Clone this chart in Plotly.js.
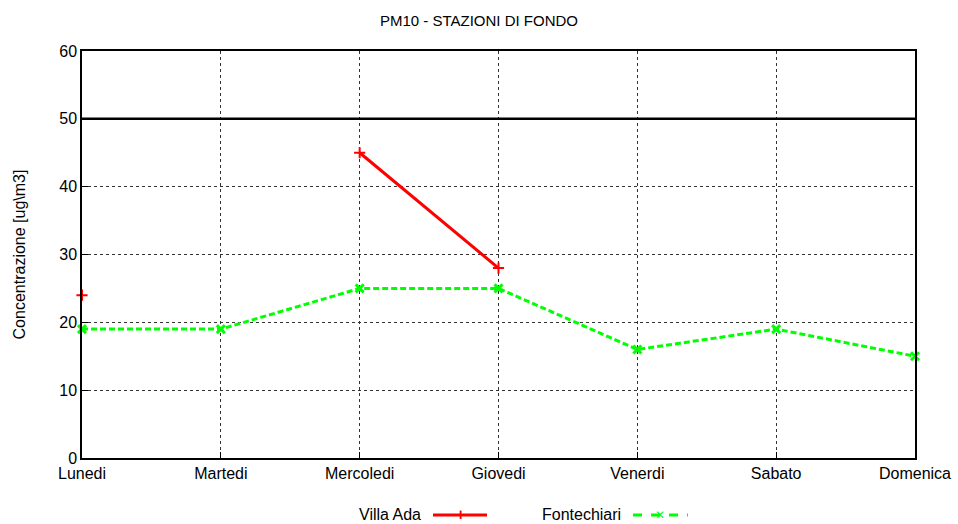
<!DOCTYPE html>
<html><head><meta charset="utf-8">
<script src="https://cdn.plot.ly/plotly-3.0.1.min.js"></script>
<style>body{margin:0}#chart{width:958px;height:524px}</style>
</head><body><div id="chart"></div>
<script>
const days = ['Lunedi', 'Martedi', 'Mercoledi', 'Giovedi', 'Venerdi', 'Sabato', 'Domenica'];
const villaAda = [24, null, 45, 28, null, null, null];
const fontechiari = [19, 19, 25, 25, 16, 19, 15];
const limit = 50;

const xIdx = days.map((d, i) => i);
const px2x = px => (px - 82) / 833;
const legY = -0.14;

Plotly.newPlot('chart', [
  {
    x: xIdx, y: villaAda, type: 'scatter', mode: 'lines+markers', connectgaps: false, cliponaxis: false,
    line: { color: '#ff0000', width: 3 },
    marker: { symbol: 'cross-thin', size: 8, line: { color: '#ff0000', width: 2 } },
  },
  {
    x: xIdx, y: fontechiari, type: 'scatter', mode: 'lines+markers', cliponaxis: false,
    line: { color: '#00ff00', width: 3, dash: '6px,3px' },
    marker: { symbol: 'x-thin', size: 8, line: { color: '#00ff00', width: 3 } },
  },
  {
    x: [0, 6], y: [limit, limit], type: 'scatter', mode: 'lines',
    line: { color: '#000', width: 2.5 }, hoverinfo: 'skip',
  },
], {
  width: 958, height: 524,
  margin: { l: 82, r: 43, t: 51, b: 66 },
  paper_bgcolor: '#fff', plot_bgcolor: '#fff',
  font: { family: 'Liberation Sans, Arial, sans-serif', size: 16, color: '#000' },
  showlegend: false,
  title: { text: 'PM10 - STAZIONI DI FONDO', x: 0.5, xanchor: 'center', y: 0.97, font: { size: 15 } },
  xaxis: {
    range: [0, 6], tickvals: xIdx, ticktext: days, fixedrange: true,
    showgrid: true, gridcolor: '#333', griddash: 'dot', gridwidth: 1,
    ticks: 'inside', ticklen: 6, tickcolor: '#000',
    showline: true, mirror: true, linecolor: '#000', linewidth: 1.5, zeroline: false,
  },
  yaxis: {
    range: [0, 60], dtick: 10, fixedrange: true,
    showgrid: true, gridcolor: '#333', griddash: 'dot', gridwidth: 1,
    ticks: 'inside', ticklen: 6, tickcolor: '#000',
    showline: true, mirror: true, linecolor: '#000', linewidth: 1.5, zeroline: false,
    title: { text: 'Concentrazione [ug\\m3]', standoff: 30, font: { size: 16 } },
  },
  shapes: [
    { type: 'line', xref: 'paper', yref: 'paper', x0: px2x(433), x1: px2x(487), y0: legY, y1: legY, line: { color: '#ff0000', width: 3 } },
    { type: 'line', xref: 'paper', yref: 'paper', x0: px2x(633), x1: px2x(688), y0: legY, y1: legY, line: { color: '#00ff00', width: 3, dash: 'dash' } },
  ],
  annotations: [
    { text: 'Villa Ada', xref: 'paper', yref: 'paper', x: px2x(423), y: legY, xanchor: 'right', yanchor: 'middle', showarrow: false },
    { text: 'Fontechiari', xref: 'paper', yref: 'paper', x: px2x(623), y: legY, xanchor: 'right', yanchor: 'middle', showarrow: false },
    { text: '<b>+</b>', xref: 'paper', yref: 'paper', x: px2x(460), y: legY, xanchor: 'center', yanchor: 'middle', showarrow: false, font: { color: '#ff0000', size: 16 } },
    { text: '<b>✕</b>', xref: 'paper', yref: 'paper', x: px2x(660), y: legY, xanchor: 'center', yanchor: 'middle', showarrow: false, font: { color: '#00ff00', size: 12, family: 'DejaVu Sans' } },
  ],
}, { displayModeBar: false });
</script></body></html>
